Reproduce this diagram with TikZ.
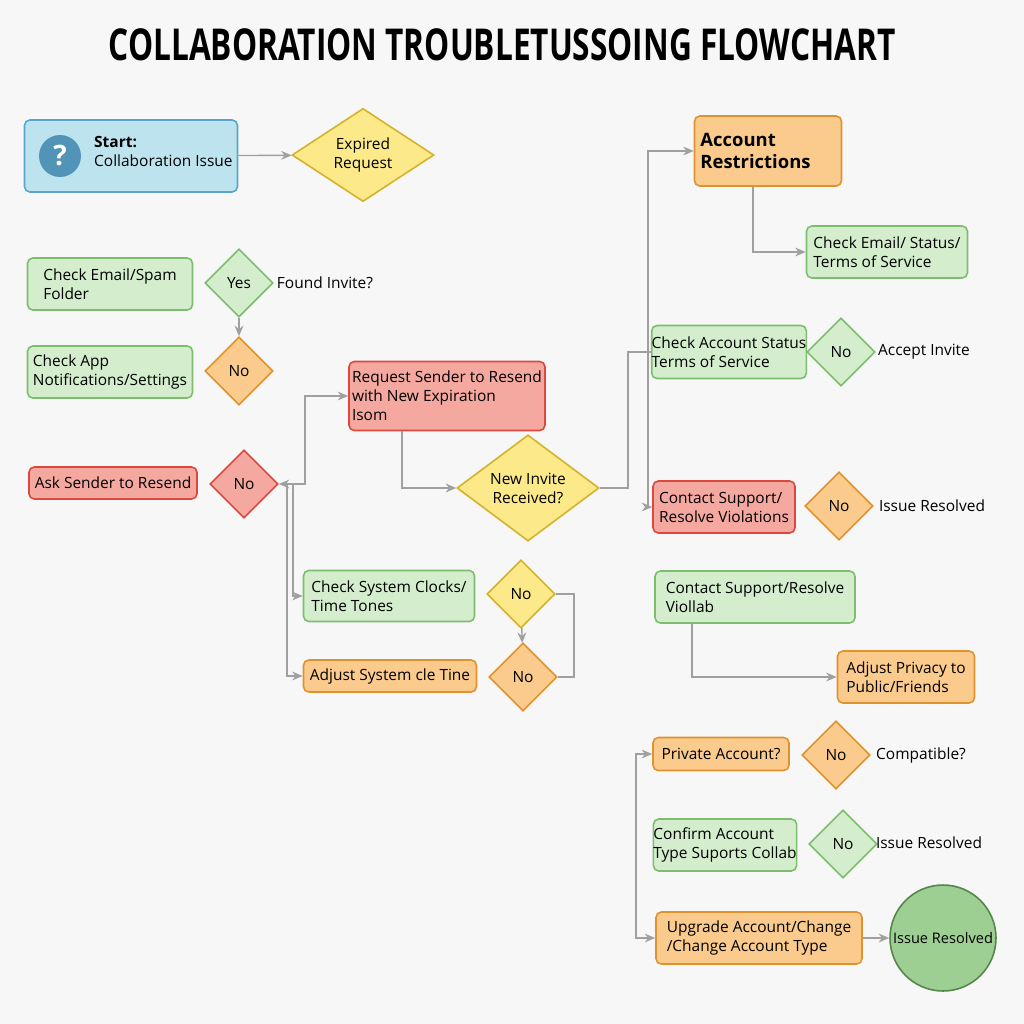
\documentclass[tikz,border=0pt]{standalone}
\usepackage{fontspec}
\setmainfont{Open Sans}
\usetikzlibrary{shapes.geometric,arrows.meta}

\definecolor{gfill}{HTML}{D4EDCD}\definecolor{gline}{HTML}{7DBE6E}
\definecolor{ofill}{HTML}{FBCB8E}\definecolor{oline}{HTML}{E0922F}
\definecolor{rfill}{HTML}{F5A8A0}\definecolor{rline}{HTML}{D9493F}
\definecolor{yfill}{HTML}{FBE98A}\definecolor{yline}{HTML}{D4B22A}
\definecolor{bfill}{HTML}{BDE3EE}\definecolor{bline}{HTML}{5AA5CC}
\definecolor{wire}{HTML}{A0A0A0}

\begin{document}
\begin{tikzpicture}[x=0.02cm,y=-0.02cm,>={Stealth[length=6pt,width=5pt]},
  font=\fontsize{8.8}{10.8}\selectfont,
  box/.style={rectangle,rounded corners=3pt,line width=0.9pt,align=left,inner sep=0pt},
  green/.style={box,draw=gline,fill=gfill},
  orange/.style={box,draw=oline,fill=ofill},
  red/.style={box,draw=rline,fill=rfill},
  dec/.style={diamond,line width=0.9pt,inner sep=0pt,minimum width=1.36cm,minimum height=1.36cm},
  wide/.style={dec,minimum width=2.84cm,minimum height=1.76cm},
  gdec/.style={dec,draw=gline,fill=gfill},
  odec/.style={dec,draw=oline,fill=ofill},
  rdec/.style={dec,draw=rline,fill=rfill},
  ydec/.style={dec,draw=yline,fill=yfill},
  link/.style={draw=wire,line width=0.8pt}]

  \fill[white!97!black] (0,0) rectangle (1024,1024);
  \useasboundingbox (0,0) rectangle (1024,1024);

  \node (title) at (502,45) {\scalebox{0.72}[1]{\fontsize{25}{28}\selectfont\bfseries COLLABORATION TROUBLETUSSOING FLOWCHART}};

  % left column
  \node[box,draw=bline,fill=bfill,minimum width=4.26cm,minimum height=1.44cm] (start) at (131,156) {};
  \node[circle,fill=bline!90!black,minimum size=0.84cm,inner sep=0pt,text=white,font=\fontsize{16}{16}\selectfont\bfseries] (qmark) at (60,156) {?};
  \node[anchor=west,align=left] (starttxt) at (88,151) {\bfseries Start:\\Collaboration Issue};
  \node[wide,draw=yline,fill=yfill,align=center] (expired) at (363,155) {Expired\\Request};

  \node[green,minimum width=3.3cm,minimum height=1.04cm] (chkmail) at (110,284) {Check Email/Spam\\Folder};
  \node[gdec] (yes) at (239,283) {Yes};
  \node (found) at (325,283) {Found Invite?};
  \node[green,minimum width=3.3cm,minimum height=1.04cm] (chkapp) at (110,372) {Check App\\Notifications/Settings};
  \node[odec] (noapp) at (239,371) {No};

  \node[red,minimum width=3.36cm,minimum height=0.64cm] (ask) at (113,483) {Ask Sender to Resend};
  \node[rdec] (noask) at (244,484) {No};
  \node[red,minimum width=3.92cm,minimum height=1.38cm] (resend) at (447,396) {Request Sender to Resend\\with  New Expiration\\Isom};
  \node[wide,draw=yline,fill=yfill,align=center] (newinv) at (528,488) {New Invite\\Received?};

  \node[green,minimum width=3.42cm,minimum height=1.02cm] (clocks) at (389,596) {Check System Clocks/\\Time Tones};
  \node[ydec] (noclk) at (521,594) {No};
  \node[orange,minimum width=3.46cm,minimum height=0.64cm] (adjust) at (390,676) {Adjust System cle Tine};
  \node[odec] (noadj) at (523,677) {No};

  % right column
  \node[orange,minimum width=2.94cm,minimum height=1.4cm,font=\fontsize{10.5}{12.5}\selectfont\bfseries] (restrict) at (768,151) {Account\\Restrictions\hspace{0.5cm}\null};
  \node[green,minimum width=3.22cm,minimum height=1.04cm] (chkstat) at (887,252) {Check Email/ Status/\\Terms of Service};
  \node[green,minimum width=2.84cm,minimum height=1.06cm] (chkacc) at (729,352) {Check Account Status\\Terms of Service};
  \node[gdec] (noacc) at (841,352) {No};
  \node (accept) at (924,352) {Accept Invite};
  \node[red,minimum width=2.84cm,minimum height=1.04cm] (contact) at (724,507) {Contact Support/\\Resolve Violations};
  \node[odec] (nocon) at (839,506) {No};
  \node (res1) at (932,506) {Issue Resolved};
  \node[green,minimum width=4cm,minimum height=1.04cm] (contact2) at (755,597) {Contact Support/Resolve\\Viollab};
  \node[orange,minimum width=2.74cm,minimum height=1.04cm] (privacy) at (906,677) {Adjust Privacy to\\Public/Friends};
  \node[orange,minimum width=2.72cm,minimum height=0.66cm] (private) at (721,754) {Private Account?};
  \node[odec] (nopriv) at (836,755) {No};
  \node (compat) at (921,755) {Compatible?};
  \node[green,minimum width=2.8cm,minimum height=1.04cm] (confirm) at (725,845) {Confirm Account\\Type Suports Collab};
  \node[gdec] (noconf) at (843,844) {No};
  \node (res2) at (929,843) {Issue Resolved};
  \node[orange,minimum width=4.12cm,minimum height=1.04cm] (upgrade) at (759,938) {Upgrade Account/Change\\/Change Account Type};
  \node[circle,draw=gline!70!black,fill=gline!75,line width=0.9pt,minimum size=2.12cm,inner sep=0pt,font=\fontsize{8.3}{10}\selectfont] (done) at (943,938) {Issue Resolved};

  % connectors
  \draw[link,->] (start) -- (expired);
  \draw[link,->] (yes) -- (noapp);
  \draw[link,<->] (noask.east) -- (305,484) |- (resend.west);
  \draw[link,->] (resend.south -| 402,0) |- (newinv.west);
  \draw[link,->] (293,484) |- (clocks.west);
  \draw[link,->] (287,484) |- (adjust.west);
  \draw[link,->] (noclk) -- (noadj);
  \draw[link] (noclk.east) -- (574,594) |- (noadj.east);
  \draw[link] (newinv.east) -- (628,488) |- (chkacc.west);
  \draw[link,->] (648,507) |- (restrict.west);
  \draw[link,->] (648,490) |- (contact.west);
  \draw[link,->] (restrict.south -| 753,0) |- (chkstat.west);
  \draw[link,->] (contact2.south -| 692,0) |- (privacy.west);
  \draw[link,->] (636,938) |- (private.west);
  \draw[link,->] (636,754) |- (upgrade.west);
  \draw[link,->] (upgrade) -- (done);
\end{tikzpicture}
\end{document}
